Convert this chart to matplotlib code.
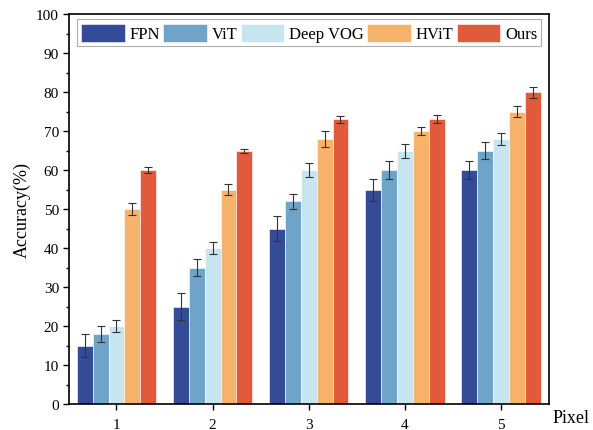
import numpy as np
import matplotlib
matplotlib.use("Agg")
import matplotlib.pyplot as plt
from matplotlib.ticker import MultipleLocator

plt.rcParams['font.family'] = ['Liberation Serif', 'DejaVu Serif']

pixels = [1, 2, 3, 4, 5]
methods = ['FPN', 'ViT', 'Deep VOG', 'HViT', 'Ours']
acc = {
    'FPN': [15, 25, 45, 55, 60],
    'ViT': [18, 35, 52, 60, 65],
    'Deep VOG': [20, 40, 60, 65, 68],
    'HViT': [50, 55, 68, 70, 75],
    'Ours': [60, 65, 73, 73, 80],
}
err = {
    'FPN': [3.0, 3.5, 3.3, 2.8, 2.3],
    'ViT': [2.1, 2.2, 1.9, 2.3, 2.2],
    'Deep VOG': [1.6, 1.6, 1.8, 1.8, 1.5],
    'HViT': [1.6, 1.5, 2.0, 1.0, 1.4],
    'Ours': [0.7, 0.5, 0.9, 1.0, 1.4],
}
colors = ['#344b97', '#6fa3c7', '#c6e5ee', '#f6b36c', '#e05b3c']

fig = plt.figure(figsize=(5.93, 4.31), dpi=100)
ax = fig.add_axes([0.117, 0.06, 0.809, 0.905])

x = np.array(pixels, dtype=float)
w = 0.165
for i, m in enumerate(methods):
    ax.bar(x + (i - 2) * w, acc[m], w, yerr=err[m], color=colors[i],
           edgecolor='white', linewidth=0.4, label=m,
           error_kw=dict(ecolor='#333333', elinewidth=0.8, capsize=3, capthick=0.8))

ax.set_xlim(0.51, 5.5)
ax.set_ylim(0, 100)
ax.set_xticks(pixels)
ax.yaxis.set_major_locator(MultipleLocator(10))
ax.yaxis.set_minor_locator(MultipleLocator(5))
ax.tick_params(axis='both', labelsize=11, direction='out', width=1, length=4)
ax.tick_params(axis='x', pad=6)
ax.tick_params(axis='y', which='minor', length=2, width=1)
for s in ax.spines.values():
    s.set_linewidth(1.2)

ax.set_ylabel('Accuracy(%)', fontsize=13)
ax.text(1.045, -0.035, 'Pixel', transform=ax.transAxes, fontsize=13,
        ha='center', va='center')

leg = ax.legend(ncol=5, loc='upper center', bbox_to_anchor=(0.5, 0.995),
                fontsize=12, frameon=True, fancybox=False, edgecolor='#999999',
                handlelength=2.6, handleheight=1.3, handletextpad=0.3,
                columnspacing=0.2, borderpad=0.25, borderaxespad=0.2)
leg.get_frame().set_linewidth(0.8)

fig.savefig('out.png', dpi=100)
